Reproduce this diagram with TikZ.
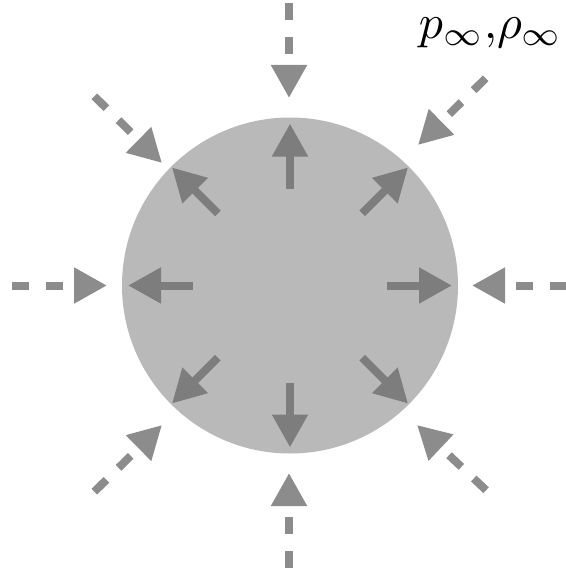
\documentclass[tikz,border=0pt]{standalone}
\usetikzlibrary{arrows.meta}
\definecolor{discfill}{gray}{0.725}
\definecolor{outerarrow}{gray}{0.55}
\definecolor{innerarrow}{gray}{0.49}
\begin{document}
\begin{tikzpicture}[x=1pt,y=-1pt,
  inarrow/.style={draw=innerarrow, line width=8pt,
    -{Triangle[length=33pt,width=34pt,fill=innerarrow]}},
  outarrow/.style={draw=outerarrow, line width=8pt,
    {Triangle[length=33pt,width=34pt,fill=outerarrow]}-,
    dash pattern=on 17pt off 17pt, dash phase=21pt},
  disc/.style={circle, fill=discfill, minimum size=336pt, inner sep=0pt}]
\useasboundingbox (0,0) rectangle (565,578);
\node[disc] (disc) at (290,285.5) {};
% inner arrows
\begin{scope}[shift={(disc.center)}]
  \foreach \a in {0,90,180,270}{
    \draw[inarrow] (\a:97) -- (\a:162);
  }
  \foreach \a in {45,135,225,315}{
    \draw[inarrow] (\a:102) -- (\a:167);
  }
\end{scope}
% outer arrows
\coordinate (tT) at (289,98);   \coordinate (eT) at (289,0);
\coordinate (tB) at (289,473);  \coordinate (eB) at (289,580);
\coordinate (tL) at (107,285.5);\coordinate (eL) at (10,285.5);
\coordinate (tR) at (472,285.5);\coordinate (eR) at (569,285.5);
\coordinate (tTL) at (162,163); \coordinate (eTL) at (93,95);
\coordinate (tTR) at (418,145); \coordinate (eTR) at (486,78);
\coordinate (tBL) at (162,425); \coordinate (eBL) at (93,493);
\coordinate (tBR) at (417,425); \coordinate (eBR) at (488,492);
\foreach \n in {T,B,L,R,TL,TR,BL,BR}{
  \draw[outarrow] (t\n) -- (e\n);
}
\node[anchor=base west, inner sep=0pt, scale=4.8] (label) at (418,38) {$p_\infty{,}\rho_\infty$};
\end{tikzpicture}
\end{document}
